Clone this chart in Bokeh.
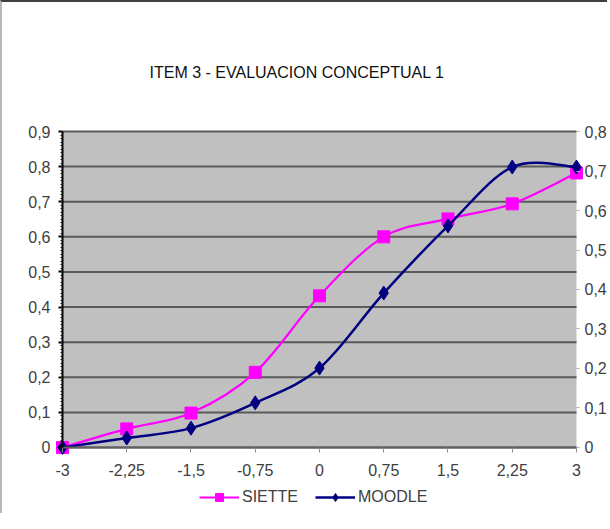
from bokeh.plotting import figure
from bokeh.models import (Range1d, LinearAxis, FixedTicker, Legend, LegendItem,
                          ColumnDataSource, Label)
from bokeh.embed import file_html
from bokeh.resources import INLINE

# ---------------- data ----------------
x_vals = [-3, -2.25, -1.5, -0.75, 0, 0.75, 1.5, 2.25, 3]
x_labels = ["-3", "-2,25", "-1,5", "-0,75", "0", "0,75", "1,5", "2,25", "3"]
siette = [0.0, 0.053, 0.098, 0.214, 0.432, 0.600, 0.651, 0.694, 0.782]   # left axis
moodle = [0.0, 0.024, 0.049, 0.113, 0.201, 0.391, 0.561, 0.710, 0.710]   # right axis
left_ticks = [0, 0.1, 0.2, 0.3, 0.4, 0.5, 0.6, 0.7, 0.8, 0.9]
left_labels = ["0", "0,1", "0,2", "0,3", "0,4", "0,5", "0,6", "0,7", "0,8", "0,9"]
right_ticks = [0, 0.1, 0.2, 0.3, 0.4, 0.5, 0.6, 0.7, 0.8]
right_labels = ["0", "0,1", "0,2", "0,3", "0,4", "0,5", "0,6", "0,7", "0,8"]
title_text = "ITEM 3 - EVALUACION CONCEPTUAL 1"

FONT = "Liberation Sans"
TXT = "#404040"

# the frame also holds title, axis labels and legend; the grey plotting box is
# x -3..3, y 0..0.9 (left scale) / 0..0.8 (right scale)
LEFT_MAX = left_ticks[-1]
RIGHT_MAX = right_ticks[-1]
x_lo, x_hi = -3.572, 3.362
y_lo, y_hi = -0.188, 1.1592
r_lo, r_hi = y_lo * RIGHT_MAX / LEFT_MAX, y_hi * RIGHT_MAX / LEFT_MAX

p = figure(frame_width=594, frame_height=473,
           x_range=Range1d(x_lo, x_hi), y_range=Range1d(y_lo, y_hi),
           output_backend="svg", toolbar_location=None,
           min_border_left=11, min_border_right=0, min_border_top=38, min_border_bottom=0,
           background_fill_color="white", border_fill_color="white",
           outline_line_color=None)
p.styles = {"border-top": "2px solid #404040", "border-left": "2px solid #b8b8b8"}

p.extra_y_ranges = {"right": Range1d(r_lo, r_hi)}

# grey plotting box
p.quad(left=[x_vals[0]], right=[x_vals[-1]], bottom=[left_ticks[0]], top=[LEFT_MAX],
       fill_color="#C0C0C0", line_color=None, level="image")

# horizontal grid lines, limited to the plotting box
p.xgrid.visible = False
p.ygrid.visible = False
p.segment(x0=[x_vals[0]] * len(left_ticks), x1=[x_vals[-1]] * len(left_ticks),
          y0=left_ticks, y1=left_ticks, line_color="#5a5a5a", line_width=2,
          level="underlay")

# x axis, drawn at y = 0
xa = p.xaxis[0]
xa.fixed_location = 0
xa.bounds = (x_vals[0], x_vals[-1])
xa.ticker = FixedTicker(ticks=x_vals)
xa.major_label_overrides = {v: l for v, l in zip(x_vals, x_labels)}
xa.axis_line_color = "#606060"
xa.axis_line_width = 2
xa.major_tick_line_color = "#909090"
xa.major_tick_in = 0
xa.major_tick_out = 5
xa.minor_tick_line_color = None
xa.major_label_standoff = 12
xa.major_label_text_font = FONT
xa.major_label_text_font_size = "16px"
xa.major_label_text_color = TXT

# left axis, drawn at x = -3
ya = p.yaxis[0]
ya.fixed_location = x_vals[0]
ya.bounds = (0, LEFT_MAX)
ya.ticker = FixedTicker(ticks=left_ticks, minor_ticks=[i / 100 for i in range(91)])
ya.major_label_overrides = {v: l for v, l in zip(left_ticks, left_labels)}
ya.axis_line_color = "black"
ya.axis_line_width = 2
ya.major_tick_line_color = "black"
ya.major_tick_line_width = 2
ya.major_tick_in = 0
ya.major_tick_out = 4
ya.minor_tick_line_color = "#202020"
ya.minor_tick_in = 0
ya.minor_tick_out = 2
ya.major_label_standoff = 8
ya.major_label_text_font = FONT
ya.major_label_text_font_size = "16px"
ya.major_label_text_color = TXT

# right axis, drawn at x = 3
ra = LinearAxis(y_range_name="right", bounds=(0, RIGHT_MAX), fixed_location=x_vals[-1],
                ticker=FixedTicker(ticks=right_ticks),
                major_label_overrides={v: l for v, l in zip(right_ticks, right_labels)})
ra.axis_line_color = None
ra.major_tick_line_color = "#b0b0b0"
ra.major_tick_in = 0
ra.major_tick_out = 3
ra.minor_tick_line_color = None
ra.major_label_standoff = 5
ra.major_label_text_font = FONT
ra.major_label_text_font_size = "16px"
ra.major_label_text_color = TXT
p.add_layout(ra, "right")


def smooth(xs, ys):
    """Excel-style smoothed line: Catmull-Rom segments as cubic Bezier curves."""
    n = len(xs)
    d = dict(x0=[], y0=[], x1=[], y1=[], cx0=[], cy0=[], cx1=[], cy1=[])
    for i in range(n - 1):
        xa_, ya_ = xs[i], ys[i]
        xb, yb = xs[i + 1], ys[i + 1]
        xp, yp = (xs[i - 1], ys[i - 1]) if i > 0 else (xa_, ya_)
        xn, yn = (xs[i + 2], ys[i + 2]) if i + 2 < n else (xb, yb)
        d["x0"].append(xa_); d["y0"].append(ya_)
        d["x1"].append(xb); d["y1"].append(yb)
        d["cx0"].append(xa_ + (xb - xp) / 6); d["cy0"].append(ya_ + (yb - yp) / 6)
        d["cx1"].append(xb - (xn - xa_) / 6); d["cy1"].append(yb - (yn - ya_) / 6)
    return ColumnDataSource(d)


PINK = "#FF00FF"
NAVY = "#000080"

s_line = p.bezier(x0="x0", y0="y0", x1="x1", y1="y1", cx0="cx0", cy0="cy0",
                  cx1="cx1", cy1="cy1", source=smooth(x_vals, siette),
                  line_color=PINK, line_width=2.2)
s_pts = p.scatter(x_vals, siette, marker="square", size=12,
                  fill_color=PINK, line_color=PINK)

m_line = p.bezier(x0="x0", y0="y0", x1="x1", y1="y1", cx0="cx0", cy0="cy0",
                  cx1="cx1", cy1="cy1", source=smooth(x_vals, moodle),
                  line_color=NAVY, line_width=2.5, y_range_name="right")
m_pts = p.scatter(x_vals, moodle, marker="diamond", size=14,
                  fill_color=NAVY, line_color=NAVY, y_range_name="right")

# chart title
p.add_layout(Label(x=-1.984, y=1.068, text=title_text, text_font=FONT,
                   text_font_size="16px", text_color="#111111",
                   text_align="left", text_baseline="alphabetic"))

legend = Legend(items=[LegendItem(label="SIETTE", renderers=[s_line, s_pts]),
                       LegendItem(label="MOODLE", renderers=[m_line, m_pts])],
                orientation="horizontal", location=(186, 6),
                background_fill_alpha=0, border_line_alpha=0,
                glyph_width=40, glyph_height=20, label_standoff=3, spacing=17,
                padding=0, margin=0,
                label_text_font=FONT, label_text_font_size="16px",
                label_text_color=TXT)
p.add_layout(legend)

open("out.html", "w").write(file_html(p, INLINE))
